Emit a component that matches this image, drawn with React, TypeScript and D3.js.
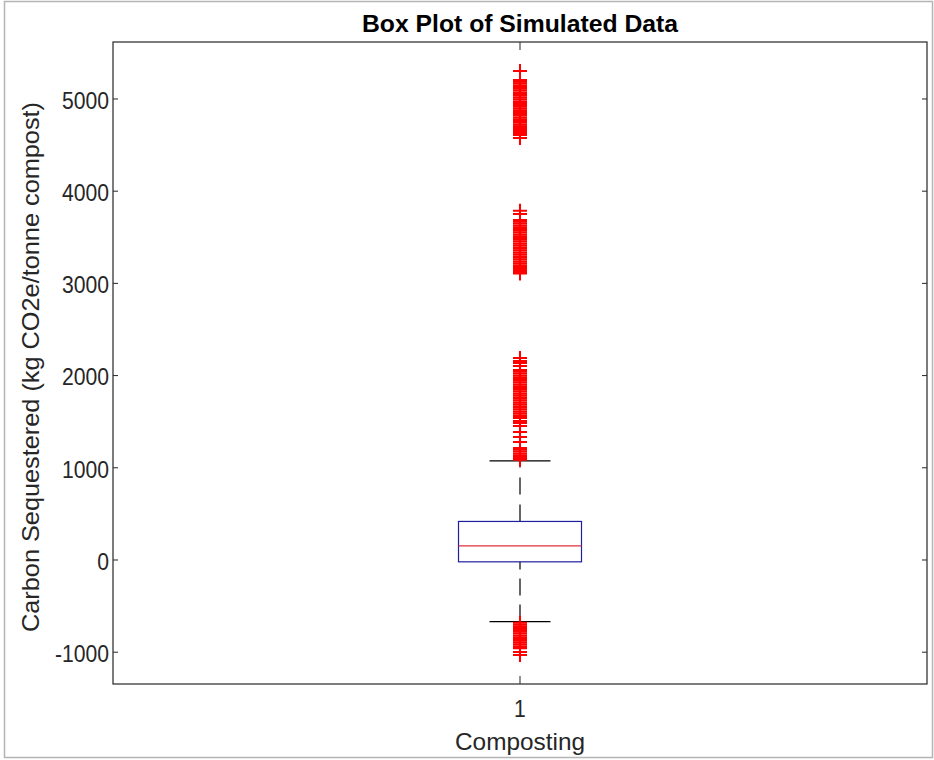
import React, { useEffect, useRef } from "react";
import * as d3 from "d3";

// box statistics (kg CO2e / tonne compost)
const categories = ["1"];
const q1 = [-20];
const median = [152];
const q3 = [418];
const whiskerLow = [-668];
const whiskerHigh = [1074];

// outliers, top cluster to bottom cluster
const outliersHigh1 = [
  5304, 5206, 5188, 5170, 5149, 5131, 5110, 5092, 5071, 5053, 5034, 5012, 4995,
  4974, 4956, 4935, 4917, 4896, 4878, 4859, 4838, 4820, 4799, 4781, 4760, 4742,
  4721, 4703, 4684, 4665, 4653, 4631, 4610, 4577,
];
const outliersHigh2 = [
  3789, 3753, 3688, 3669, 3650, 3628, 3610, 3589, 3571, 3552, 3530, 3512, 3491,
  3473, 3454, 3433, 3414, 3393, 3375, 3356, 3335, 3316, 3295, 3277, 3258, 3237,
  3218, 3197, 3180, 3167, 3145, 3124, 3108,
];
const outliersHigh3 = [
  2191, 2158, 2137, 2104, 2061, 2042, 2023, 2002, 1983, 1962, 1944, 1925, 1904,
  1885, 1864, 1846, 1827, 1806, 1787, 1766, 1748, 1729, 1708, 1689, 1668, 1650,
  1631, 1610, 1591, 1570, 1552, 1540, 1508, 1486, 1453, 1388, 1334, 1280, 1215,
  1196, 1177, 1156, 1137, 1118, 1098, 1086,
];
const outliersLow = [
  -680, -700, -719, -738, -759, -778, -797, -818, -837, -856, -877, -896, -915,
  -936, -948, -958, -998, -1030,
];

const yTicks = [-1000, 0, 1000, 2000, 3000, 4000, 5000];

const App = () => {
  const svgRef = useRef(null);

  const config = {
    width: 934,
    height: 760,
    margin: { top: 42, right: 7, bottom: 76, left: 113 },
  };

  useEffect(() => {
    const svg = d3.select(svgRef.current);
    svg.selectAll("*").remove();

    const m = config.margin;
    const left = m.left,
      right = config.width - m.right,
      top = m.top,
      bottom = config.height - m.bottom;

    const x = d3.scalePoint().domain(categories).range([left, right]).padding(0.5);
    const y = d3.scaleLinear().domain([-1345, 5618]).range([bottom, top]);

    const axisColor = "#262626";
    const font = "'Liberation Sans', Arial, Helvetica, sans-serif";

    // outer figure frame
    svg
      .append("rect")
      .attr("x", 4.5)
      .attr("y", 1.5)
      .attr("width", 928)
      .attr("height", 756)
      .attr("fill", "white")
      .attr("stroke", "#b4b4b4")
      .attr("stroke-width", 1.5);

    const g = svg.append("g");

    // box + whiskers
    const boxW = 123;
    const capW = 61;
    categories.forEach((c, i) => {
      const cx = x(c);

      // whiskers (dashed)
      g.append("line")
        .attr("x1", cx).attr("x2", cx)
        .attr("y1", y(q3[i])).attr("y2", y(whiskerHigh[i]))
        .attr("stroke", "black").attr("stroke-width", 1.2)
        .attr("stroke-dasharray", "17,10");
      g.append("line")
        .attr("x1", cx).attr("x2", cx)
        .attr("y1", y(whiskerLow[i])).attr("y2", y(q1[i]))
        .attr("stroke", "black").attr("stroke-width", 1.2)
        .attr("stroke-dasharray", "17,9");

      // caps
      [whiskerHigh[i], whiskerLow[i]].forEach((v) => {
        g.append("line")
          .attr("x1", cx - capW / 2).attr("x2", cx + capW / 2)
          .attr("y1", y(v)).attr("y2", y(v))
          .attr("stroke", "black").attr("stroke-width", 1.2);
      });

      g.append("rect")
        .attr("x", cx - boxW / 2)
        .attr("y", y(q3[i]))
        .attr("width", boxW)
        .attr("height", y(q1[i]) - y(q3[i]))
        .attr("fill", "none")
        .attr("stroke", "#1f1fa0")
        .attr("stroke-width", 1.2);

      g.append("line")
        .attr("x1", cx - boxW / 2).attr("x2", cx + boxW / 2)
        .attr("y1", y(median[i])).attr("y2", y(median[i]))
        .attr("stroke", "#e0303a").attr("stroke-width", 1.2);

      // outliers as '+' markers
      const all = [...outliersHigh1, ...outliersHigh2, ...outliersHigh3, ...outliersLow];
      const s = 7;
      g.selectAll(".outlier")
        .data(all)
        .join("path")
        .attr("class", "outlier")
        .attr("d", (d) => `M${cx - s},${y(d)}H${cx + s}M${cx},${y(d) - s}V${y(d) + s}`)
        .attr("stroke", "#ff0000")
        .attr("stroke-width", 2)
        .attr("fill", "none");
    });

    // axes box
    g.append("rect")
      .attr("x", left)
      .attr("y", top)
      .attr("width", right - left)
      .attr("height", bottom - top)
      .attr("fill", "none")
      .attr("stroke", axisColor)
      .attr("stroke-width", 1.2);

    // y ticks (inside, both sides)
    const tl = 5;
    yTicks.forEach((t) => {
      g.append("line")
        .attr("x1", left).attr("x2", left + tl)
        .attr("y1", y(t)).attr("y2", y(t))
        .attr("stroke", axisColor);
      g.append("line")
        .attr("x1", right).attr("x2", right - tl)
        .attr("y1", y(t)).attr("y2", y(t))
        .attr("stroke", axisColor);
      g.append("text")
        .attr("transform", `translate(${left - 4},${y(t)}) scale(0.92,1)`)
        .attr("dy", "0.43em")
        .attr("text-anchor", "end")
        .attr("font-family", font)
        .attr("font-size", 23)
        .attr("fill", axisColor)
        .text(t);
    });

    // x ticks
    categories.forEach((c) => {
      g.append("line")
        .attr("x1", x(c)).attr("x2", x(c))
        .attr("y1", bottom).attr("y2", bottom - 8)
        .attr("stroke", axisColor);
      g.append("line")
        .attr("x1", x(c)).attr("x2", x(c))
        .attr("y1", top).attr("y2", top + 8)
        .attr("stroke", axisColor);
      g.append("text")
        .attr("transform", `translate(${x(c)},${bottom + 33}) scale(0.92,1)`)
        .attr("text-anchor", "middle")
        .attr("font-family", font)
        .attr("font-size", 23)
        .attr("fill", axisColor)
        .text(c);
    });

    // labels
    svg.append("text")
      .attr("x", (left + right) / 2)
      .attr("y", 32)
      .attr("text-anchor", "middle")
      .attr("font-family", font)
      .attr("font-size", 24)
      .attr("font-weight", "bold")
      .attr("fill", "black")
      .attr("textLength", 316)
      .attr("lengthAdjust", "spacingAndGlyphs")
      .text("Box Plot of Simulated Data");

    svg.append("text")
      .attr("x", (left + right) / 2)
      .attr("y", 750)
      .attr("text-anchor", "middle")
      .attr("font-family", font)
      .attr("font-size", 24)
      .attr("fill", axisColor)
      .attr("textLength", 130)
      .attr("lengthAdjust", "spacingAndGlyphs")
      .text("Composting");

    svg.append("text")
      .attr("transform", `translate(39,${(top + bottom) / 2 + 4}) rotate(-90)`)
      .attr("text-anchor", "middle")
      .attr("font-family", font)
      .attr("font-size", 24)
      .attr("fill", axisColor)
      .attr("textLength", 530)
      .attr("lengthAdjust", "spacingAndGlyphs")
      .text("Carbon Sequestered (kg CO2e/tonne compost)");
  }, []);

  return (
    <svg
      ref={svgRef}
      width={config.width}
      height={config.height}
      style={{ position: "fixed", left: 0, top: 0 }}
    ></svg>
  );
};

export default App;
